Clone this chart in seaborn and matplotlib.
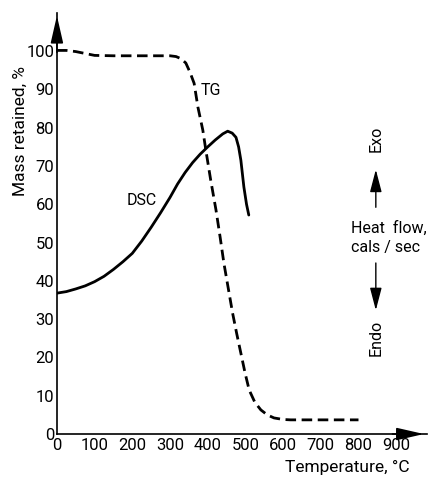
import matplotlib
matplotlib.use("Agg")
import matplotlib.pyplot as plt
import seaborn as sns
import pandas as pd

# Thermogravimetric (TG) curve: mass retained (%) vs temperature (°C)
tg_temp = [0, 25, 50, 75, 100, 150, 200, 250, 300, 316, 330, 342, 353, 364,
           374, 387, 395, 408, 422, 433, 443, 455, 466, 477, 488, 499, 510,
           525, 541, 558, 576, 600, 620, 700, 800]
tg_mass = [100.2, 100.2, 99.9, 99.4, 98.9, 98.8, 98.8, 98.8, 98.8, 98.6, 98.0,
           96.9, 94.5, 91.6, 85.4, 79.4, 74.2, 66.3, 58.5, 51.4, 44.6, 37.8,
           31.6, 26.2, 21.1, 16.0, 11.5, 8.3, 6.3, 5.0, 4.2, 3.8, 3.7, 3.7, 3.7]

# Differential scanning calorimetry (DSC) trace, plotted on the same scale
dsc_temp = [0, 25, 50, 75, 100, 125, 150, 175, 200, 225, 250, 275, 300, 320,
            340, 360, 380, 400, 420, 440, 453, 465, 475, 482, 488, 496, 503,
            509]
dsc_signal = [36.8, 37.2, 37.9, 38.7, 39.8, 41.2, 43.0, 45.0, 47.2, 50.4, 54.0,
              57.8, 61.8, 65.3, 68.3, 70.9, 73.1, 75.0, 76.8, 78.4, 79.1, 78.6,
              77.5, 75.0, 71.5, 64.5, 60.0, 57.2]

x_ticks = [0, 100, 200, 300, 400, 500, 600, 700, 800, 900]
y_ticks = [0, 10, 20, 30, 40, 50, 60, 70, 80, 90, 100]

sns.set_theme(style="white")
plt.rcParams["font.family"] = ["Roboto", "DejaVu Sans"]
plt.rcParams["text.color"] = "black"
plt.rcParams["axes.labelcolor"] = "black"

TICK_FS = 12
LABEL_FS = 12.5
NOTE_FS = 11.5

fig = plt.figure(figsize=(4.28, 4.78), dpi=100)
ax = fig.add_axes([0.133, 0.092, 0.864, 0.881])

tg_df = pd.DataFrame({"temp": tg_temp, "mass": tg_mass})
dsc_df = pd.DataFrame({"temp": dsc_temp, "signal": dsc_signal})

sns.lineplot(data=tg_df, x="temp", y="mass", ax=ax, sort=False, estimator=None,
             color="black", linewidth=2.0)
ax.lines[-1].set_dashes((3.8, 2.0))
sns.lineplot(data=dsc_df, x="temp", y="signal", ax=ax, sort=False,
             estimator=None, color="black", linewidth=2.0)

ax.set_xlim(0, 981)
ax.set_ylim(0, 110)

for side in ("top", "right"):
    ax.spines[side].set_visible(False)
for side in ("left", "bottom"):
    ax.spines[side].set_color("black")
    ax.spines[side].set_linewidth(1.2)

ax.set_xticks(x_ticks)
ax.set_yticks(y_ticks)
ax.tick_params(axis="both", direction="in", length=10, width=0.9,
               color="black", labelcolor="black", labelsize=TICK_FS)
ax.tick_params(axis="y", pad=2)
ax.tick_params(axis="x", pad=3)

# Arrow heads at the ends of both axes
axis_arrow = dict(arrowstyle="-|>,head_length=1.4,head_width=0.32",
                  color="black", lw=1.2, mutation_scale=12)
ax.annotate("", xy=(1.0, 0), xytext=(0.9, 0), xycoords="axes fraction",
            arrowprops=axis_arrow, annotation_clip=False)
ax.annotate("", xy=(0, 1.0), xytext=(0, 0.9), xycoords="axes fraction",
            arrowprops=axis_arrow, annotation_clip=False)

ax.set_xlabel("Temperature, °C", fontsize=LABEL_FS, ha="right")
ax.xaxis.set_label_coords(0.955, -0.062)
ax.set_ylabel("Mass retained, %", fontsize=LABEL_FS)
ax.yaxis.set_label_coords(-0.08, 0.72)

# Curve labels
ax.text(382, 89.8, "TG", fontsize=NOTE_FS, ha="left", va="center")
ax.text(186, 61, "DSC", fontsize=NOTE_FS, ha="left", va="center")

# Heat-flow direction indicator
side_arrow = dict(arrowstyle="-|>,head_length=1.15,head_width=0.3",
                  color="black", lw=1.0, mutation_scale=12)
ax.text(846, 77, "Exo", rotation=90, fontsize=NOTE_FS, ha="center", va="center")
ax.annotate("", xy=(846, 69.8), xytext=(846, 58.5), arrowprops=side_arrow)
ax.text(780, 53.8, "Heat  flow,", fontsize=NOTE_FS, ha="left", va="center")
ax.text(780, 48.8, "cals / sec", fontsize=NOTE_FS, ha="left", va="center")
ax.annotate("", xy=(846, 31.6), xytext=(846, 45.4), arrowprops=side_arrow)
ax.text(846, 25, "Endo", rotation=90, fontsize=NOTE_FS, ha="center", va="center")

fig.savefig("out.png", dpi=100)
